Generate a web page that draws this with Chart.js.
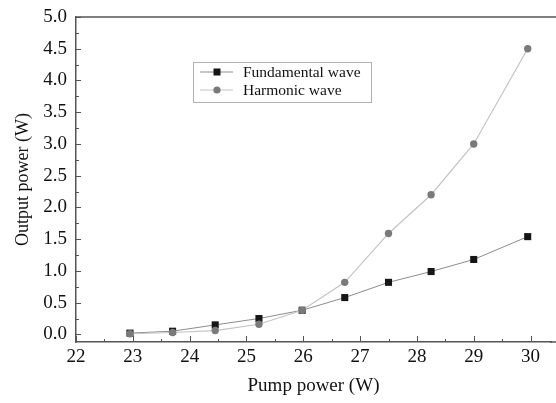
<!DOCTYPE html>
<html><head><meta charset="utf-8">
<script src="https://cdn.jsdelivr.net/npm/chart.js@4.4.1/dist/chart.umd.min.js"></script>
<style>html,body{margin:0;padding:0;background:#fff;} canvas{display:block;}</style>
</head><body>
<canvas id="c" width="556" height="403"></canvas>
<script>
const pumpPower   = [22.95, 23.70, 24.45, 25.22, 25.98, 26.73, 27.50, 28.25, 29.00, 29.95];
const fundamental = [0.02, 0.05, 0.15, 0.25, 0.38, 0.58, 0.82, 0.99, 1.18, 1.54];
const harmonic    = [0.01, 0.03, 0.06, 0.16, 0.38, 0.82, 1.59, 2.20, 3.00, 4.50];
const seriesNames = ['Fundamental wave', 'Harmonic wave'];
const xTicks      = [22, 23, 24, 25, 26, 27, 28, 29, 30];
const xMinorTicks = [22.5, 23.5, 24.5, 25.5, 26.5, 27.5, 28.5, 29.5];
const yTicks      = [0, 0.5, 1.0, 1.5, 2.0, 2.5, 3.0, 3.5, 4.0, 4.5, 5.0];
const yMinorTicks = [0.25, 0.75, 1.25, 1.75, 2.25, 2.75, 3.25, 3.75, 4.25, 4.75];

const FONT = "'Liberation Serif', 'Times New Roman', serif";
const AXIS_COLOR = '#555';

const ticksPlugin = {
  id: 'ticksAndFrame',
  afterDraw(chart) {
    const {ctx, chartArea: ca, scales: {x, y}} = chart;
    ctx.save();
    ctx.strokeStyle = AXIS_COLOR;
    ctx.lineWidth = 1.5;
    ctx.beginPath();
    ctx.moveTo(ca.left, ca.top);
    ctx.lineTo(chart.width, ca.top);
    ctx.moveTo(ca.right - 1, ca.bottom);
    ctx.lineTo(chart.width, ca.bottom);
    ctx.stroke();
    ctx.lineWidth = 1;
    ctx.beginPath();
    xTicks.forEach(v => { const px = Math.round(x.getPixelForValue(v)) + 0.5; ctx.moveTo(px, ca.bottom); ctx.lineTo(px, ca.bottom - 6); });
    xMinorTicks.forEach(v => { const px = Math.round(x.getPixelForValue(v)) + 0.5; ctx.moveTo(px, ca.bottom); ctx.lineTo(px, ca.bottom - 3); });
    yTicks.forEach(v => { const py = Math.round(y.getPixelForValue(v)) + 0.5; ctx.moveTo(ca.left, py); ctx.lineTo(ca.left + 5, py); });
    yMinorTicks.forEach(v => { const py = Math.round(y.getPixelForValue(v)) + 0.5; ctx.moveTo(ca.left, py); ctx.lineTo(ca.left + 3, py); });
    ctx.stroke();
    ctx.restore();
  }
};

const legendPlugin = {
  id: 'boxLegend',
  afterDraw(chart) {
    const {ctx, chartArea: ca} = chart;
    const bx = ca.left + 117, by = ca.top + 45, bw = 178, bh = 40;
    ctx.save();
    ctx.strokeStyle = '#b0b0b0';
    ctx.lineWidth = 1;
    ctx.strokeRect(bx + 0.5, by + 0.5, bw, bh);
    chart.data.datasets.forEach((ds, i) => {
      const cy = by + 10 + i * 18;
      ctx.strokeStyle = ds.borderColor;
      ctx.lineWidth = ds.borderWidth;
      ctx.beginPath();
      ctx.moveTo(bx + 7, cy); ctx.lineTo(bx + 40, cy);
      ctx.stroke();
      const mx = bx + 24;
      ctx.fillStyle = ds.pointBackgroundColor;
      if (ds.pointStyle === 'rect') {
        ctx.fillRect(mx - 3.5, cy - 3.5, 7, 7);
      } else {
        ctx.beginPath(); ctx.arc(mx, cy, 3.6, 0, Math.PI * 2); ctx.fill();
      }
      ctx.fillStyle = '#111';
      ctx.font = '15.5px ' + FONT;
      ctx.textBaseline = 'middle';
      ctx.textAlign = 'left';
      ctx.fillText(ds.label, bx + 50, cy + 1);
    });
    ctx.restore();
  }
};

new Chart(document.getElementById('c'), {
  type: 'line',
  data: {
    datasets: [
      {
        label: seriesNames[0],
        data: pumpPower.map((p, i) => ({x: p, y: fundamental[i]})),
        borderColor: '#8c8c8c', borderWidth: 1,
        pointStyle: 'rect', pointRadius: 5, pointBorderWidth: 0,
        pointBackgroundColor: '#161616', pointBorderColor: '#161616',
        tension: 0, order: 1
      },
      {
        label: seriesNames[1],
        data: pumpPower.map((p, i) => ({x: p, y: harmonic[i]})),
        borderColor: '#c4c4c4', borderWidth: 1.2,
        pointStyle: 'circle', pointRadius: 3.7, pointBorderWidth: 0,
        pointBackgroundColor: '#7a7a7a', pointBorderColor: '#7a7a7a',
        tension: 0, order: 0
      }
    ]
  },
  options: {
    responsive: false,
    animation: false,
    devicePixelRatio: 1,
    layout: {padding: {left: 0, right: 0, top: 17, bottom: 0}},
    plugins: {legend: {display: false}, tooltip: {enabled: false}},
    scales: {
      x: {
        type: 'linear', min: 22, max: 30.36,
        afterBuildTicks: s => { s.ticks = xTicks.map(v => ({value: v})); },
        afterFit: s => { s.height = 61; s.paddingLeft = 0; s.paddingRight = 0; },
        grid: {display: false, drawTicks: false},
        border: {display: true, color: AXIS_COLOR, width: 1.5},
        ticks: {color: '#111', font: {family: FONT, size: 19}, padding: 4, maxRotation: 0, autoSkip: false,
                callback: v => String(v)},
        title: {display: true, text: 'Pump power (W)', color: '#111', font: {family: FONT, size: 19}, padding: {top: 0, bottom: 6}}
      },
      y: {
        type: 'linear', min: -0.12, max: 5,
        afterBuildTicks: s => { s.ticks = yTicks.map(v => ({value: v})); },
        afterFit: s => { s.width = 76; s.paddingTop = 0; s.paddingBottom = 0; },
        grid: {display: false, drawTicks: false},
        border: {display: true, color: AXIS_COLOR, width: 1.5},
        ticks: {color: '#111', font: {family: FONT, size: 19}, padding: 9, autoSkip: false,
                callback: v => Number(v).toFixed(1)},
        title: {display: true, text: 'Output power (W)', color: '#111', font: {family: FONT, size: 18}, padding: {top: 12, bottom: 0}}
      }
    }
  },
  plugins: [ticksPlugin, legendPlugin]
});
</script>
</body></html>
